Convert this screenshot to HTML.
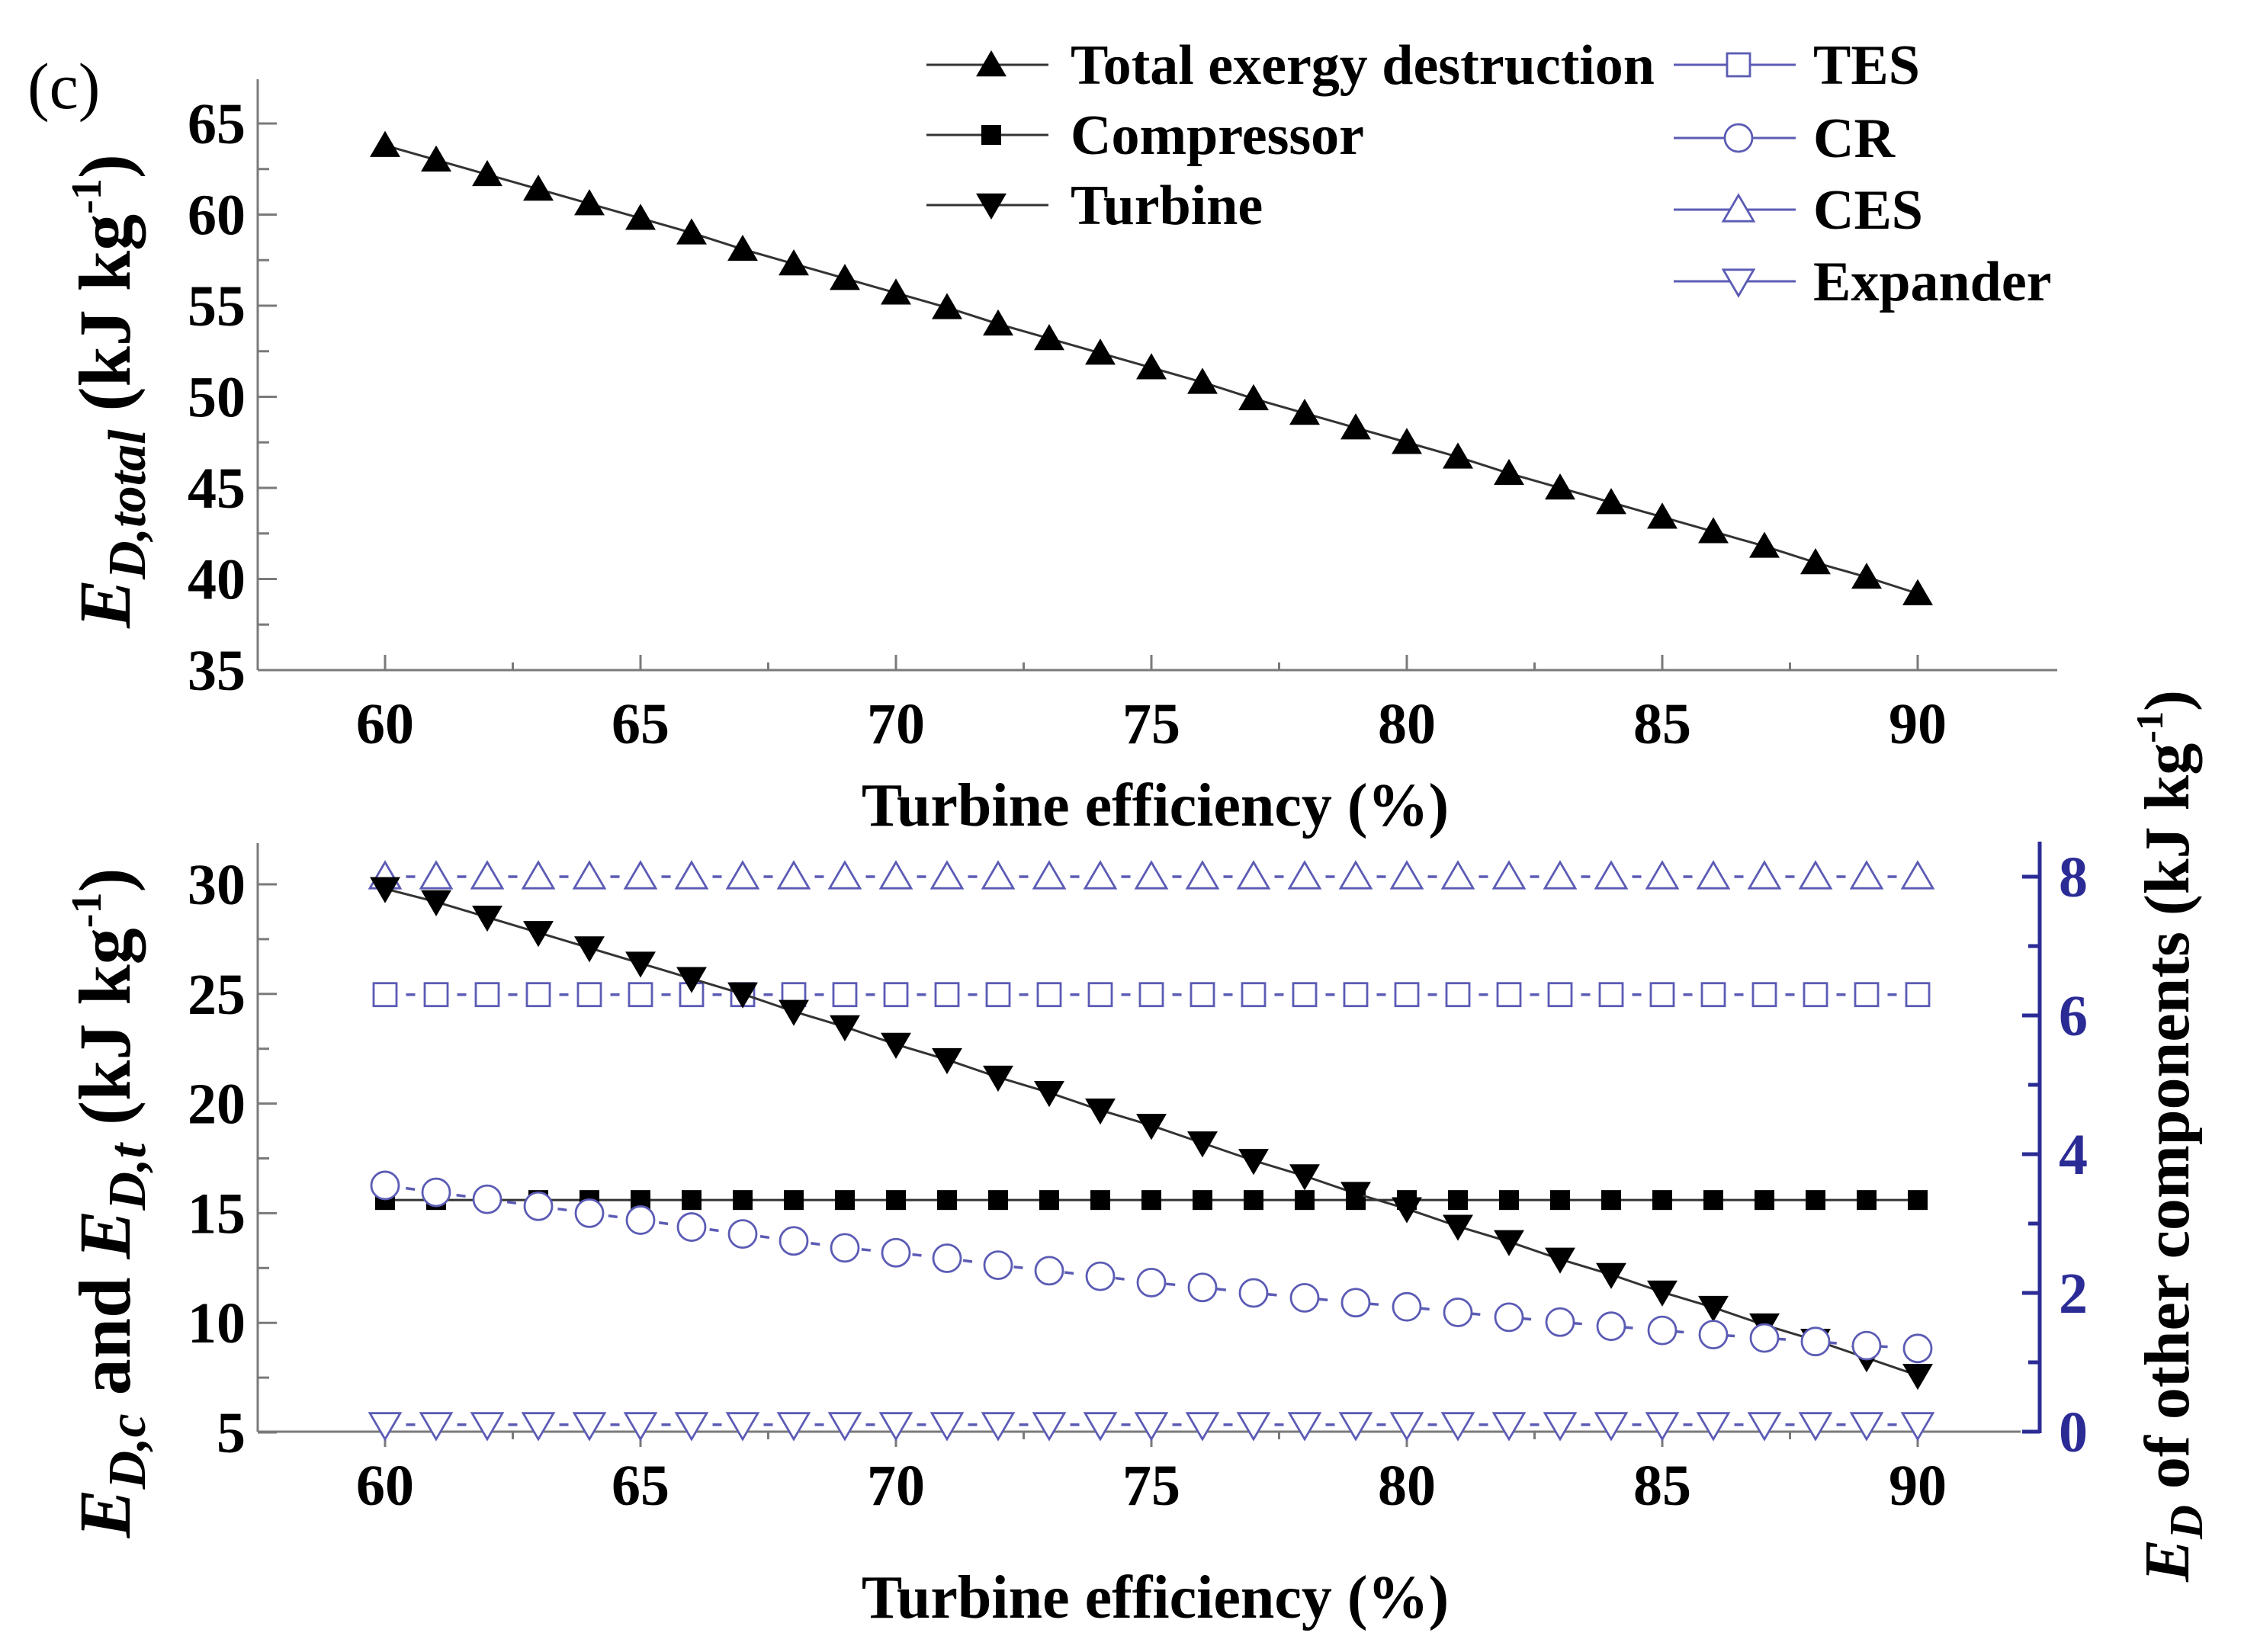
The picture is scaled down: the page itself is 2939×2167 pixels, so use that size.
<!DOCTYPE html>
<html><head><meta charset="utf-8"><style>
html,body{margin:0;padding:0;background:#fff;}
svg{display:block;}
text{font-family:"Liberation Serif",serif;}
</style></head><body>
<svg id="chart" width="2939" height="2167" viewBox="0 0 2939 2167" xmlns="http://www.w3.org/2000/svg">
<text x="36" y="142" font-size="86">(c)</text>
<g id="topg"></g><g id="botg"></g><g id="legend"></g>
</svg>
<script>
const effs=[60,61,62,63,64,65,66,67,68,69,70,71,72,73,74,75,76,77,78,79,80,81,82,83,84,85,86,87,88,89,90];
const totalED=[63.8,63.0,62.2,61.4,60.6,59.8,59.0,58.1,57.3,56.5,55.7,54.9,54.0,53.2,52.4,51.6,50.8,49.9,49.1,48.3,47.5,46.7,45.8,45.0,44.2,43.4,42.6,41.8,40.9,40.1,39.2];
const compressorED=[15.6,15.6,15.6,15.6,15.6,15.6,15.6,15.6,15.6,15.6,15.6,15.6,15.6,15.6,15.6,15.6,15.6,15.6,15.6,15.6,15.6,15.6,15.6,15.6,15.6,15.6,15.6,15.6,15.6,15.6,15.6];
const turbineED=[29.8,29.2,28.5,27.8,27.1,26.4,25.7,25.0,24.2,23.5,22.7,22.0,21.2,20.5,19.7,19.0,18.2,17.4,16.7,15.9,15.2,14.4,13.7,12.9,12.2,11.4,10.7,9.9,9.2,8.4,7.6];
const tesED=[6.3,6.3,6.3,6.3,6.3,6.3,6.3,6.3,6.3,6.3,6.3,6.3,6.3,6.3,6.3,6.3,6.3,6.3,6.3,6.3,6.3,6.3,6.3,6.3,6.3,6.3,6.3,6.3,6.3,6.3,6.3];
const crED=[3.55,3.45,3.35,3.25,3.15,3.05,2.95,2.85,2.75,2.65,2.58,2.5,2.4,2.32,2.24,2.15,2.08,2.0,1.93,1.86,1.8,1.72,1.65,1.58,1.52,1.46,1.4,1.35,1.3,1.24,1.2];
const cesED=[8.0,8.0,8.0,8.0,8.0,8.0,8.0,8.0,8.0,8.0,8.0,8.0,8.0,8.0,8.0,8.0,8.0,8.0,8.0,8.0,8.0,8.0,8.0,8.0,8.0,8.0,8.0,8.0,8.0,8.0,8.0];
const expanderED=[0.1,0.1,0.1,0.1,0.1,0.1,0.1,0.1,0.1,0.1,0.1,0.1,0.1,0.1,0.1,0.1,0.1,0.1,0.1,0.1,0.1,0.1,0.1,0.1,0.1,0.1,0.1,0.1,0.1,0.1,0.1];
const xTicks=[60,65,70,75,80,85,90];
const topYTicks=[35,40,45,50,55,60,65];
const botYTicks=[5,10,15,20,25,30];
const rightYTicks=[0,2,4,6,8];

(function(){
const NS="http://www.w3.org/2000/svg";
const BLUE="#5b5bb5", DBLUE="#2b2b96", AX="#7a7a7a";
function mk(p,tag,attrs){const e=document.createElementNS(NS,tag);for(const k in attrs)e.setAttribute(k,attrs[k]);p.appendChild(e);return e;}
const X=v=>505+(v-60)*67.0;
const Yt=v=>162+(65-v)*23.9;
const Yb=v=>1160+(30-v)*28.76;
const Yr=v=>1878-v*91;

function marker(g,type,x,y,name){
  let e;const blue=type.startsWith('o');const st=blue?{fill:'#fff',stroke:BLUE,'stroke-width':2.8}:{fill:'#000'};
  if(type==='tri'||type==='otri'){const s=19;e=mk(g,'polygon',Object.assign({points:`${x},${y-s} ${x-s*1.05},${y+s*0.8} ${x+s*1.05},${y+s*0.8}`},st));}
  else if(type==='itri'||type==='oitri'){const s=19;e=mk(g,'polygon',Object.assign({points:`${x},${y+s} ${x-s*1.05},${y-s*0.8} ${x+s*1.05},${y-s*0.8}`},st));}
  else if(type==='sq'){e=mk(g,'rect',Object.assign({x:x-13,y:y-13,width:26,height:26},st));}
  else if(type==='osq'){e=mk(g,'rect',Object.assign({x:x-15,y:y-15,width:30,height:30},st));}
  else {e=mk(g,'circle',Object.assign({cx:x,cy:y,r:18},st));}
  
  
}
function series(g,vals,yf,type,name){
  const sg=mk(g,'g',{});
  
  
  const pts=effs.map((e,i)=>X(e)+','+yf(vals[i])).join(' ');
  const blue=type.startsWith('o');
  mk(sg,'polyline',blue?{points:pts,fill:'none',stroke:BLUE,'stroke-width':3.5,'stroke-dasharray':'12 55','stroke-dashoffset':-27.5}:{points:pts,fill:'none',stroke:'#333','stroke-width':3});
  effs.forEach((e,i)=>marker(sg,type,X(e),yf(vals[i]),name+'-point'));
}
function axes(g,yf,yTicks,yTop,yBot,label){
  const ax=mk(g,'g',{stroke:AX,'stroke-width':3,fill:'none'});
  
  
  mk(ax,'line',{x1:338,y1:yTop,x2:338,y2:yBot});
  mk(ax,'line',{x1:338,y1:yBot,x2:label==='top'?2698:2650,y2:yBot});
  yTicks.forEach((v,i)=>{mk(ax,'line',{x1:338,y1:yf(v),x2:363,y2:yf(v)});
    if(i<yTicks.length-1){const m=yf(v+(yTicks[1]-yTicks[0])/2);mk(ax,'line',{x1:338,y1:m,x2:353,y2:m});}
    const t=mk(g,'text',{x:322,y:yf(v)+26,'font-size':76,'font-weight':'bold','text-anchor':'end'});t.textContent=v;
    });
  xTicks.forEach((v,i)=>{const d=label==='top'?-20:20;mk(ax,'line',{x1:X(v),y1:yBot,x2:X(v),y2:yBot+d});
    if(i<xTicks.length-1){mk(ax,'line',{x1:X(v+2.5),y1:yBot,x2:X(v+2.5),y2:yBot+d/2});}
    const t=mk(g,'text',{x:X(v),y:yBot+96,'font-size':76,'font-weight':'bold','text-anchor':'middle'});t.textContent=v;
    });
}
const topG=document.getElementById('topg');
axes(topG,Yt,topYTicks,104,Yt(35),'top');
series(topG,totalED,Yt,'tri','total-exergy');
let t=mk(topG,'text',{x:1515,y:1083,'font-size':80,'font-weight':'bold','text-anchor':'middle'});t.textContent='Turbine efficiency (%)';

t=mk(topG,'text',{transform:'translate(170,513) rotate(-90)','font-size':96,'font-weight':'bold','text-anchor':'middle'});
t.innerHTML='<tspan font-style="italic">E</tspan><tspan font-style="italic" font-size="70" dy="20">D,total</tspan><tspan dy="-20"> (kJ kg</tspan><tspan font-size="56" dy="-38">-1</tspan><tspan dy="38">)</tspan>';


const botG=document.getElementById('botg');
axes(botG,Yb,botYTicks,1106,1878,'bot');
const rg=mk(botG,'g',{stroke:DBLUE,'stroke-width':5});

mk(rg,'line',{x1:2675,y1:1104,x2:2675,y2:1880});
rightYTicks.forEach((v,i)=>{mk(rg,'line',{x1:2652,y1:Yr(v),x2:2675,y2:Yr(v)});
  if(i<rightYTicks.length-1)mk(rg,'line',{x1:2660,y1:Yr(v+1),x2:2675,y2:Yr(v+1)});
  const tt=mk(botG,'text',{x:2700,y:Yr(v)+26,'font-size':76,'font-weight':'bold',fill:DBLUE});tt.textContent=v;
  });
series(botG,cesED,Yr,'otri','ces');
series(botG,tesED,Yr,'osq','tes');
series(botG,expanderED,Yr,'oitri','expander');
series(botG,compressorED,Yb,'sq','compressor');
series(botG,turbineED,Yb,'itri','turbine');
series(botG,crED,Yr,'ocirc','cr');
t=mk(botG,'text',{x:1515,y:2122,'font-size':80,'font-weight':'bold','text-anchor':'middle'});t.textContent='Turbine efficiency (%)';

t=mk(botG,'text',{transform:'translate(170,1578) rotate(-90)','font-size':96,'font-weight':'bold','text-anchor':'middle'});
t.innerHTML='<tspan font-style="italic">E</tspan><tspan font-style="italic" font-size="70" dy="20">D,c</tspan><tspan dy="-20"> and </tspan><tspan font-style="italic">E</tspan><tspan font-style="italic" font-size="70" dy="20">D,t</tspan><tspan dy="-20"> (kJ kg</tspan><tspan font-size="56" dy="-38">-1</tspan><tspan dy="38">)</tspan>';

t=mk(botG,'text',{transform:'translate(2870,1490) rotate(-90)','font-size':84,'font-weight':'bold','text-anchor':'middle'});
t.innerHTML='<tspan font-style="italic">E</tspan><tspan font-style="italic" font-size="62" dy="18">D</tspan><tspan dy="-18"> of other components (kJ kg</tspan><tspan font-size="50" dy="-34">-1</tspan><tspan dy="34">)</tspan>';


const lg=document.getElementById('legend');
const legL=[['Total exergy destruction','tri',85],['Compressor','sq',177],['Turbine','itri',269]];
const legR=[['TES','osq',85],['CR','ocirc',181],['CES','otri',275],['Expander','oitri',369]];
legL.forEach(([n,ty,y])=>{mk(lg,'line',{x1:1215,y1:y,x2:1375,y2:y,stroke:'#333','stroke-width':3});marker(lg,ty,1300,y,'legend-marker');
  const tt=mk(lg,'text',{x:1404,y:y+25,'font-size':74,'font-weight':'bold'});tt.textContent=n;
  });
legR.forEach(([n,ty,y])=>{mk(lg,'line',{x1:2195,y1:y,x2:2355,y2:y,stroke:BLUE,'stroke-width':3});marker(lg,ty,2280,y,'legend-marker');
  const tt=mk(lg,'text',{x:2378,y:y+25,'font-size':74,'font-weight':'bold'});tt.textContent=n;
  });
})();
</script>
</body></html>
